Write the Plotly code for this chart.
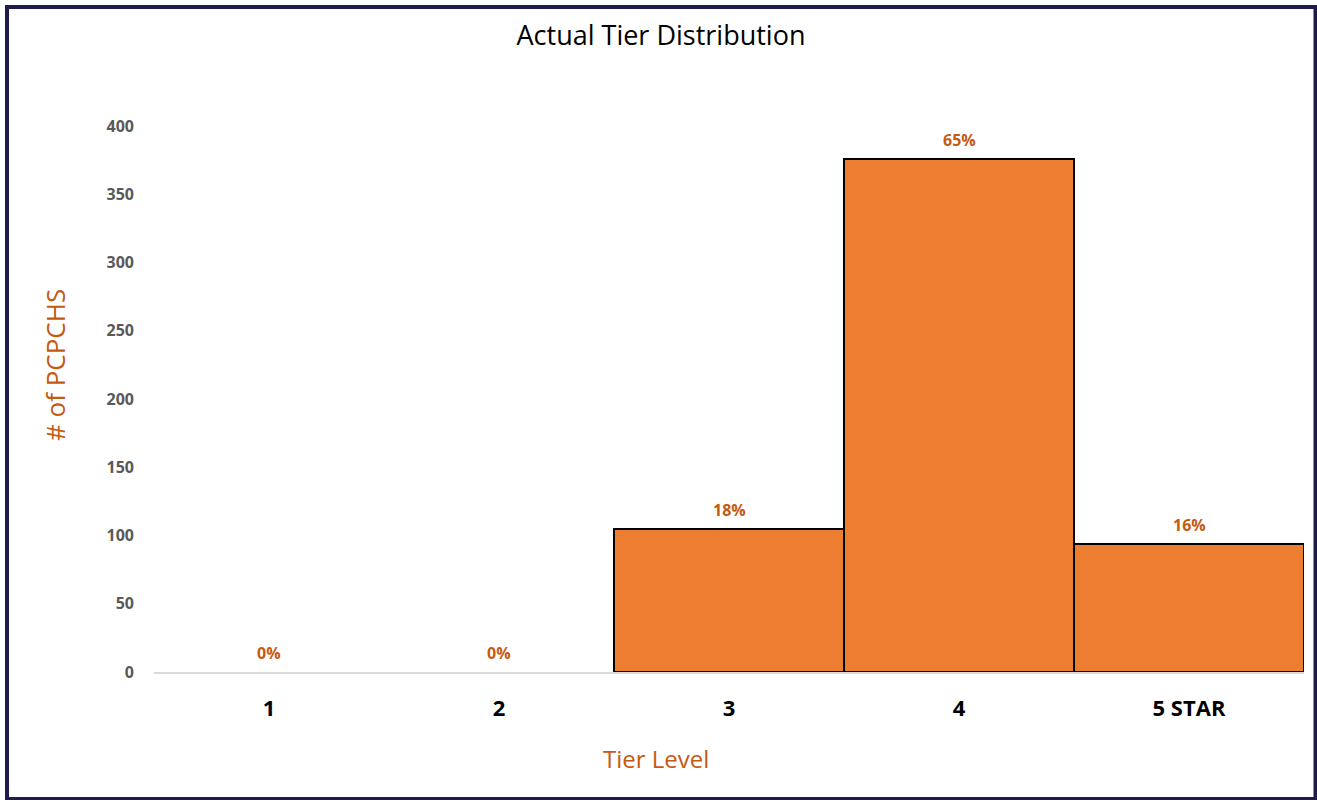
import plotly.graph_objects as go

# Tier distribution data
tiers = ["1", "2", "3", "4", "5 STAR"]
counts = [0, 0, 105, 376, 94]
y_ticks = [0, 50, 100, 150, 200, 250, 300, 350, 400]

total = sum(counts)
pct_labels = [f"{round(c / total * 100)}%" for c in counts]

W, H = 1317, 800
L, R, T, B = 154, 13, 126, 128
PW, PH = W - L - R, H - T - B

def px_x(px):
    return (px - L) / PW

def px_y(py):
    return (H - B - py) / PH

ORANGE = "#ED7D31"
DARK_ORANGE = "#C55A11"
NAVY = "#1F1B4D"
FONT = "Open Sans"

# empty bars get no outline so the light baseline stays visible
outline_colors = ["#000000" if c > 0 else "rgba(0,0,0,0)" for c in counts]

fig = go.Figure()
fig.add_trace(go.Bar(
    x=tiers,
    y=counts,
    width=1.0,
    marker=dict(color=ORANGE, line=dict(color=outline_colors, width=2)),
    hoverinfo="x+y",
    cliponaxis=False,
))

# percentage labels above each bar (category index positions)
for i, (c, lab) in enumerate(zip(counts, pct_labels)):
    fig.add_annotation(
        x=i, y=c, xref="x", yref="y", text=f"<b>{lab}</b>",
        showarrow=False, yanchor="bottom", yshift=6,
        font=dict(family=FONT, size=16, color=DARK_ORANGE),
    )

# axis titles
fig.add_annotation(
    x=px_x(55), y=px_y(365), xref="paper", yref="paper",
    text="# of PCPCHS", textangle=-90, showarrow=False,
    xanchor="center", yanchor="middle",
    font=dict(family=FONT, size=26, color=DARK_ORANGE),
)
fig.add_annotation(
    x=px_x(656), y=px_y(759), xref="paper", yref="paper",
    text="Tier Level", showarrow=False,
    xanchor="center", yanchor="middle",
    font=dict(family=FONT, size=24, color=DARK_ORANGE),
)

# outer frame
fig.add_shape(
    type="rect", xref="paper", yref="paper",
    x0=px_x(7), x1=px_x(1315.5), y0=px_y(799), y1=px_y(7),
    line=dict(color=NAVY, width=4), fillcolor="rgba(0,0,0,0)", layer="above",
)

fig.update_layout(
    width=W, height=H,
    margin=dict(l=L, r=R, t=T, b=B, pad=0),
    paper_bgcolor="white", plot_bgcolor="white",
    showlegend=False,
    bargap=0,
    title=dict(
        text="Actual Tier Distribution",
        x=661 / W, xref="container", xanchor="center",
        y=1 - 36 / H, yref="container", yanchor="middle",
        font=dict(family=FONT, size=27, color="#000000"),
    ),
    xaxis=dict(
        type="category", categoryorder="array", categoryarray=tiers,
        range=[-0.5, len(tiers) - 0.5],
        showline=True, linecolor="#D9D9D9", linewidth=2,
        showgrid=False, zeroline=False, ticks="",
        ticklabelstandoff=16,
        tickfont=dict(family=FONT, size=22, color="#000000", weight="bold"),
    ),
    yaxis=dict(
        range=[0, 400], tickvals=y_ticks,
        showgrid=False, zeroline=False, showline=False, ticks="",
        ticklabelstandoff=19,
        tickfont=dict(family=FONT, size=16, color="#595959", weight="bold"),
    ),
)

fig.write_html("out.html")
